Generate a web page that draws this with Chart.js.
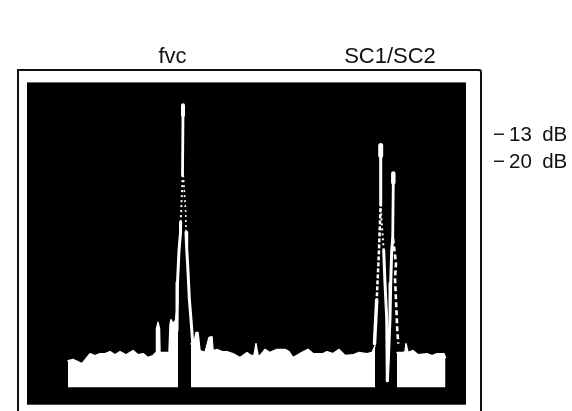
<!DOCTYPE html>
<html>
<head>
<meta charset="utf-8">
<title>fvc SC1/SC2 spectrum</title>
<script src="https://cdn.jsdelivr.net/npm/chart.js@4/dist/chart.umd.min.js"></script>
<style>
  html, body { margin: 0; padding: 0; background: #fff; overflow: hidden; }
  #wrap { position: relative; width: 572px; height: 411px; overflow: hidden; }
  #frame { position: absolute; left: 17px; top: 69px; width: 461px; height: 360px; border: 2px solid #111; border-top-right-radius: 3px; }
  canvas { position: absolute; left: 0; top: 0; }
</style>
</head>
<body>
<div id="wrap">
  <div id="frame"></div>
  <canvas id="spectrum" width="572" height="436"></canvas>
</div>
<script>
// tick labels
const carrierBins = [145.5, 363];
const carrierLabels = ['fvc', 'SC1/SC2'];
const levelTicks = [-13, -20];
const levelLabels = ['\u2212\u200913\u2002dB', '\u2212\u200920\u2002dB'];

// noise floor, three pieces between the carriers (screen bin / dB)
const floorLeftBins = [41, 46, 55, 63, 68, 73, 78, 83, 88, 93, 99, 106, 111, 116, 121, 126, 129, 129.5, 131, 132.5, 133, 142, 143, 144, 146, 148.5, 151];
const floorLeftDb = [-71.3, -71.0, -72.1, -69.5, -70.0, -69.5, -69.5, -69.0, -69.8, -69.0, -69.8, -68.7, -69.8, -69.5, -70.5, -70.0, -69.2, -63, -61.4, -63, -69.2, -69.2, -62, -60.7, -61.7, -60.9, -55.7];
const floorMidBins = [164, 166, 169, 171, 173, 178, 182, 185, 186, 190, 195, 200, 206, 213, 220, 224, 227, 229, 231, 233, 238, 243, 250, 258, 262, 266, 275, 281, 286, 296, 300, 306, 312, 318, 326, 332, 340, 345, 348];
const floorMidDb = [-66.9, -67.9, -64.0, -64.0, -68.7, -69.2, -65.3, -65.1, -68.7, -68.4, -69.0, -69.0, -69.5, -70.5, -69.2, -70.0, -70.0, -66.9, -70.0, -70.0, -68.4, -69.2, -68.4, -68.4, -69.0, -70.5, -69.2, -68.4, -69.5, -69.5, -69.0, -69.5, -68.4, -70.0, -69.8, -69.2, -69.5, -69.2, -67.5];
const floorRightBins = [370, 376, 378, 379, 381, 386, 391, 400, 405, 410, 417, 418.5];
const floorRightDb = [-69.2, -69.2, -69.0, -66.9, -69.2, -68.7, -69.8, -69.5, -70.0, -69.5, -69.5, -70.5];
const floorBottomDb = -78.2;

// fvc carrier
const fvcHeadBins = [156, 156];
const fvcHeadDb = [-5.2, -7.8];
const fvcStemBins = [156, 155.5];
const fvcStemDb = [-7.8, -23.3];
const fvcSpeckLeftBins = [155.7, 153.7];
const fvcSpeckLeftDb = [-23.3, -35.5];
const fvcSpeckRightBins = [156.3, 158.7, 159];
const fvcSpeckRightDb = [-23.3, -32.9, -38.1];
const fvcLeftBins = [153.7, 153.5, 152, 150.5, 150];
const fvcLeftDb = [-35.5, -38.1, -42.8, -51.1, -63.5];
const fvcRightBins = [159, 159.7, 160.7, 162.3, 164.7, 165.7];
const fvcRightDb = [-38.1, -42.3, -46.7, -55.2, -63.0, -66.9];

// SC1
const sc1HeadBins = [353.7, 353.7];
const sc1HeadDb = [-15.6, -18.2];
const sc1StemBins = [353.7, 353.7];
const sc1StemDb = [-18.2, -31.1];
const sc1SpeckLeftBins = [353.5, 352, 349.7];
const sc1SpeckLeftDb = [-31.9, -42.8, -55.7];
const sc1LeftBins = [349.7, 347.5];
const sc1LeftDb = [-55.7, -66.9];
const sc1SpeckRightBins = [353.7, 356.7];
const sc1SpeckRightDb = [-31.9, -42.8];
const sc1RightBins = [356.7, 358, 359.7, 360.3];
const sc1RightDb = [-42.8, -51.3, -60.2, -76.5];

// SC2
const sc2HeadBins = [366.3, 366.3];
const sc2HeadDb = [-22.9, -25.2];
const sc2StemBins = [366.3, 365.7];
const sc2StemDb = [-25.2, -39.7];
const sc2LeftBins = [365.7, 364.7, 363.7, 363, 361.3, 360.3];
const sc2LeftDb = [-39.7, -42.8, -51.3, -60.2, -71.3, -76.5];
const sc2SpeckRightBins = [366, 369, 368, 369, 370.3, 371.3];
const sc2SpeckRightDb = [-39.7, -46.2, -50, -55.7, -63.5, -66.9];

function trace(bins, db, width, dash) {
    return {
        data: bins.map((b, i) => ({ x: b, y: db[i] })),
        borderColor: '#fff',
        borderWidth: width,
        borderDash: dash || [],
        borderCapStyle: dash ? 'butt' : 'round',
        borderJoinStyle: 'round',
        pointRadius: 0,
        tension: 0,
        fill: false
    };
}

function floorTrace(bins, db) {
    const ds = trace(bins, db, 1.5);
    ds.backgroundColor = '#fff';
    ds.fill = { value: floorBottomDb };
    return ds;
}

const speck = [2, 3];

// black screen behind the traces
const screenPlugin = {
    id: 'screen',
    beforeDraw(chart) {
        const a = chart.chartArea;
        chart.ctx.save();
        chart.ctx.fillStyle = '#000';
        chart.ctx.fillRect(a.left, a.top, a.width, a.height);
        chart.ctx.restore();
    }
};

new Chart(document.getElementById('spectrum'), {
    type: 'line',
    plugins: [screenPlugin],
    data: {
        datasets: [
            floorTrace(floorLeftBins, floorLeftDb),
            floorTrace(floorMidBins, floorMidDb),
            floorTrace(floorRightBins, floorRightDb),
            trace(fvcHeadBins, fvcHeadDb, 4),
            trace(fvcStemBins, fvcStemDb, 2.8),
            trace(fvcSpeckLeftBins, fvcSpeckLeftDb, 2, speck),
            trace(fvcSpeckRightBins, fvcSpeckRightDb, 1.6, speck),
            trace(fvcLeftBins, fvcLeftDb, 3),
            trace(fvcRightBins, fvcRightDb, 3),
            trace(sc1HeadBins, sc1HeadDb, 5),
            trace(sc1StemBins, sc1StemDb, 3),
            trace(sc1SpeckLeftBins, sc1SpeckLeftDb, 2.5, [4, 2]),
            trace(sc1LeftBins, sc1LeftDb, 3.5),
            trace(sc1SpeckRightBins, sc1SpeckRightDb, 2, speck),
            trace(sc1RightBins, sc1RightDb, 3),
            trace(sc2HeadBins, sc2HeadDb, 4.5),
            trace(sc2StemBins, sc2StemDb, 2.8),
            trace(sc2LeftBins, sc2LeftDb, 3),
            trace(sc2SpeckRightBins, sc2SpeckRightDb, 2.6, [5, 3])
        ]
    },
    options: {
        responsive: false,
        animation: false,
        layout: { autoPadding: false, padding: { left: 27, top: 40, bottom: 7 } },
        plugins: { legend: { display: false }, tooltip: { enabled: false } },
        scales: {
            x: {
                type: 'linear',
                position: 'top',
                min: 0,
                max: 439,
                grid: { display: false },
                border: { display: false },
                afterBuildTicks: axis => { axis.ticks = carrierBins.map(v => ({ value: v })); },
                ticks: {
                    autoSkip: false,
                    maxRotation: 0,
                    padding: 4,
                    color: '#111',
                    font: { family: '"Liberation Sans"', size: 22 },
                    callback: value => carrierLabels[carrierBins.indexOf(value)]
                }
            },
            y: {
                type: 'linear',
                position: 'right',
                min: -82.7,
                max: 0.7,
                grid: { display: false },
                border: { display: false },
                afterBuildTicks: axis => { axis.ticks = levelTicks.map(v => ({ value: v })); },
                afterFit: axis => { axis.width = 106; },
                ticks: {
                    autoSkip: false,
                    padding: 19,
                    color: '#111',
                    font: { family: '"Liberation Sans"', size: 20.5 },
                    callback: value => levelLabels[levelTicks.indexOf(value)]
                }
            }
        }
    }
});
</script>
</body>
</html>
